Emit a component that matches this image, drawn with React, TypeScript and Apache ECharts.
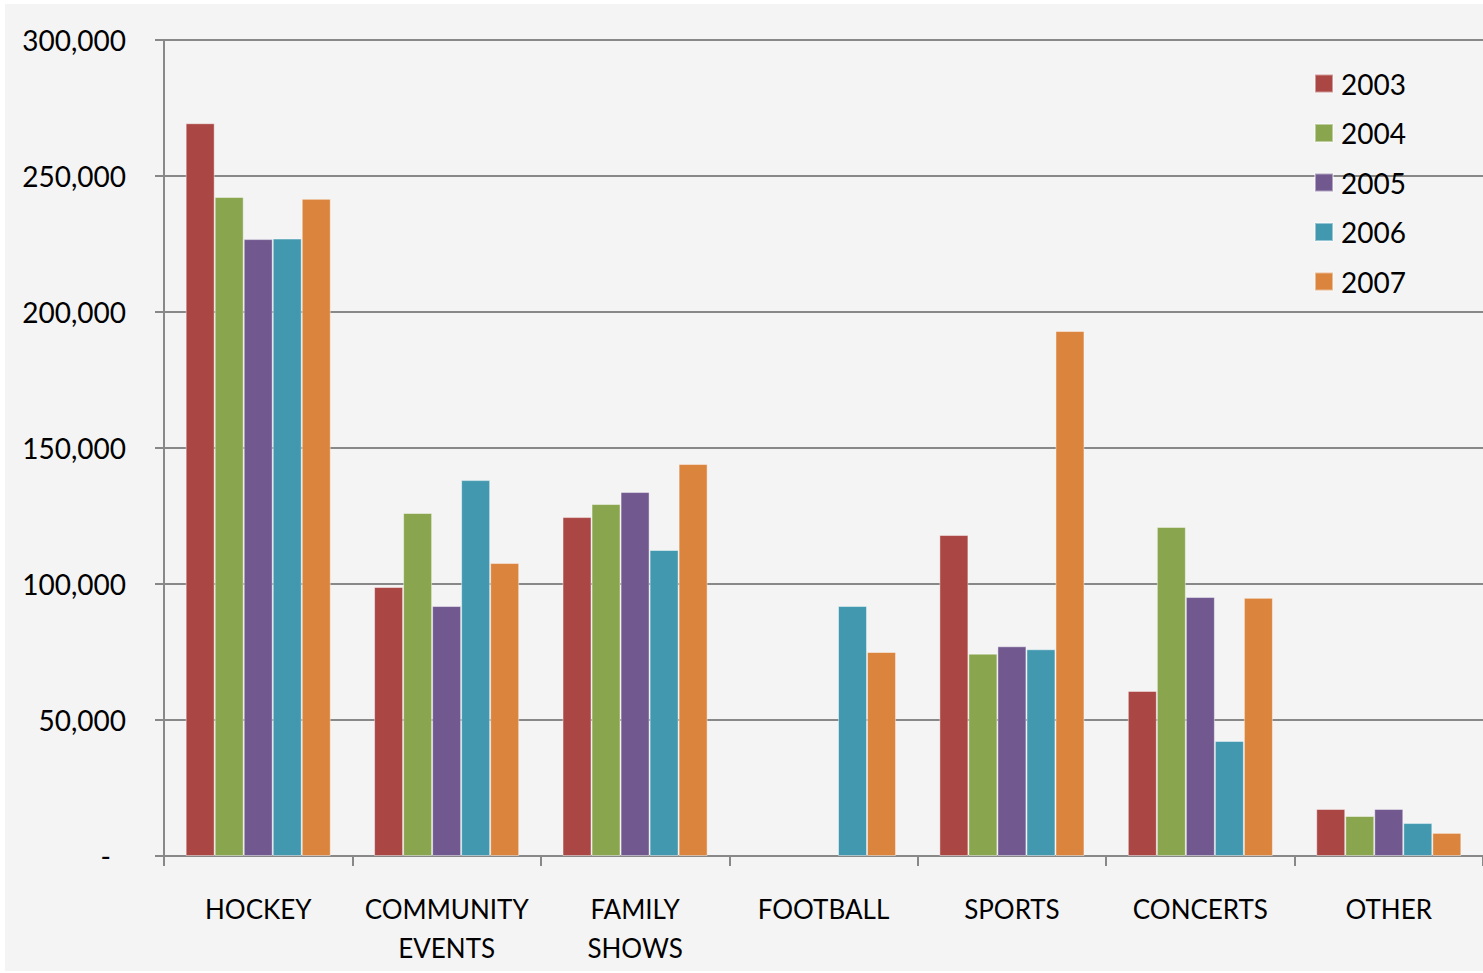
import React, { useEffect, useRef } from "react";
import * as echarts from "echarts";

const categories = ["HOCKEY", "COMMUNITY\nEVENTS", "FAMILY\nSHOWS", "FOOTBALL", "SPORTS", "CONCERTS", "OTHER"];
const years = ["2003", "2004", "2005", "2006", "2007"];
const values2003 = [269400, 98900, 124600, null, 118000, 60700, 17300];
const values2004 = [242300, 126100, 129400, null, 74400, 121000, 14700];
const values2005 = [226800, 91900, 133800, null, 77100, 95200, 17300];
const values2006 = [227000, 138200, 112500, 91900, 76000, 42300, 12100];
const values2007 = [241600, 107700, 144100, 75000, 193000, 94900, 8500];
const seriesValues = [values2003, values2004, values2005, values2006, values2007];
const colors = ["#AA4643", "#89A54E", "#71588F", "#4198AF", "#DB843D"];

const FONT = "Lato";

export default function App() {
  const ref = useRef<HTMLDivElement>(null);
  useEffect(() => {
    if (!ref.current) return;
    const chart = echarts.init(ref.current, null, { renderer: "svg" });
    const axisColor = "#888888";
    chart.setOption({
      animation: false,
      backgroundColor: "#f4f4f4",
      color: colors,
      grid: { left: 159, top: 36, right: -2, bottom: 115, containLabel: false },
      legend: {
        orient: "vertical",
        left: 1309,
        top: 65.5,
        padding: 0,
        itemWidth: 18,
        itemHeight: 18,
        itemGap: 21.5,
        icon: "rect",
        data: years,
        textStyle: { fontFamily: FONT, fontSize: 28, color: "#000", lineHeight: 28, padding: [0, 0, 0, 3] },
      },
      xAxis: {
        type: "category",
        data: categories,
        axisLine: { lineStyle: { color: axisColor, width: 2 } },
        axisTick: { show: true, length: 10, lineStyle: { color: axisColor, width: 2 } },
        axisLabel: {
          fontFamily: FONT,
          fontSize: 26,
          color: "#000",
          lineHeight: 39,
          margin: 33,
          interval: 0,
        },
      },
      yAxis: {
        type: "value",
        min: 0,
        max: 300000,
        interval: 50000,
        axisLine: { show: true, lineStyle: { color: axisColor, width: 2 } },
        axisTick: { show: true, length: 9, lineStyle: { color: axisColor, width: 2 } },
        splitLine: { lineStyle: { color: axisColor, width: 2 } },
        axisLabel: {
          fontFamily: FONT,
          fontSize: 28,
          color: "#000",
          margin: 38,
          formatter: (v: number) => (v === 0 ? "{z|-}" : v.toLocaleString("en-US")),
          rich: { z: { fontFamily: FONT, fontSize: 28, color: "#000", padding: [0, 15, 0, 0] } },
        },
      },
      series: years.map((y, i) => ({
        name: y,
        type: "bar",
        data: seriesValues[i],
        barGap: "0%",
        barCategoryGap: "23%",
        itemStyle: { color: colors[i], borderColor: "rgba(255,255,255,0.45)", borderWidth: 1 },
      })),
    });
    return () => chart.dispose();
  }, []);
  return (
    <div style={{ position: "absolute", left: 0, top: 0, width: 1483, height: 973, background: "#ffffff", overflow: "hidden" }}>
      <div ref={ref} style={{ position: "absolute", left: 5, top: 4, width: 1478, height: 967 }} />
    </div>
  );
}
